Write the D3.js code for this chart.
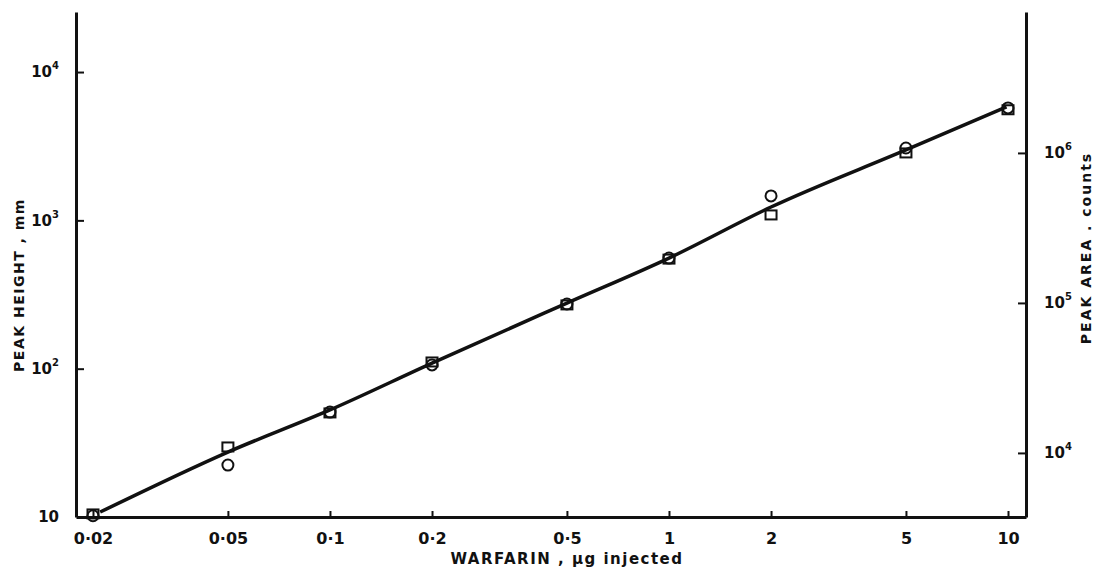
<!DOCTYPE html>
<html>
<head>
<meta charset="utf-8">
<script src="https://cdn.jsdelivr.net/npm/d3@7"></script>
<style>
  body { margin: 0; background: #fff; }
  svg text { font-family: "DejaVu Sans", sans-serif; font-weight: bold; fill: #111; }
  .axis path, .axis line { stroke: #111; }
</style>
</head>
<body>
<svg width="1094" height="573"></svg>
<script>
// warfarin injected, ug
var doses = [0.02, 0.05, 0.1, 0.2, 0.5, 1, 2, 5, 10];
var doseLabels = ["0·02", "0·05", "0·1", "0·2", "0·5", "1", "2", "5", "10"];

// circles: peak height (mm, left axis)
var peakHeight = [10.2, 22.4, 51, 106, 273, 557, 1462, 3076, 5730];
// squares: peak area (counts, right axis)
var peakArea = [3920, 10960, 18480, 40400, 97000, 196000, 386000, 1000000, 1940000];

// drawn calibration line, in peak height units
var lineDose = [0.021, 0.05, 0.1, 0.2, 0.5, 1, 2, 5, 9.9];
var lineHeight = [10.8, 27.4, 52.7, 109, 277, 557, 1230, 2985, 5820];

var heightTicks = [10, 100, 1000, 10000];
var areaTicks = [10000, 100000, 1000000];

var svg = d3.select("svg");

var x = d3.scaleLog().domain([0.01782, 11.3]).range([76, 1026]);
var yH = d3.scaleLog().domain([10, 25400]).range([517, 12]);
var yA = d3.scaleLog().domain([3740, 8.7e6]).range([517, 12]);

function sup(sel, d) {
  var e = Math.round(Math.log10(d));
  sel.text(null);
  sel.append("tspan").text("10");
  if (e > 1) {
    sel.append("tspan").attr("dy", -8).style("font-size", "10px").text(e);
  }
}

// bottom axis
var gx = svg.append("g")
  .attr("class", "axis")
  .attr("transform", "translate(0,517)")
  .call(d3.axisBottom(x)
    .tickValues(doses)
    .tickFormat(function(d, i) { return doseLabels[i]; })
    .tickSizeInner(-6)
    .tickSizeOuter(0)
    .tickPadding(16));
gx.select(".domain").attr("stroke-width", 3);
gx.selectAll(".tick line").attr("stroke-width", 2);
gx.selectAll(".tick text").style("font-size", "16px");

// left axis
var gl = svg.append("g")
  .attr("class", "axis")
  .attr("transform", "translate(76,0)")
  .call(d3.axisLeft(yH)
    .tickValues(heightTicks)
    .tickSizeInner(-8)
    .tickSizeOuter(0)
    .tickPadding(17));
gl.select(".domain").attr("stroke-width", 3);
gl.selectAll(".tick line").attr("stroke-width", 2);
gl.selectAll(".tick text")
  .style("font-size", "15px")
  .each(function(d) { sup(d3.select(this), d); });
gl.selectAll(".tick").filter(function(d) { return d == 10; }).select("line").remove();

// right axis
var gr = svg.append("g")
  .attr("class", "axis")
  .attr("transform", "translate(1026,0)")
  .call(d3.axisRight(yA)
    .tickValues(areaTicks)
    .tickSizeInner(-8)
    .tickSizeOuter(0)
    .tickPadding(18));
gr.select(".domain").attr("stroke-width", 3);
gr.selectAll(".tick line").attr("stroke-width", 2);
gr.selectAll(".tick text")
  .style("font-size", "15px")
  .each(function(d) { sup(d3.select(this), d); });

// axis titles
svg.append("text")
  .attr("x", 567).attr("y", 564)
  .attr("text-anchor", "middle")
  .style("font-size", "15px")
  .attr("letter-spacing", 1.5)
  .text("WARFARIN , µg  injected");

svg.append("text")
  .attr("transform", "translate(24,285) rotate(-90)")
  .attr("text-anchor", "middle")
  .style("font-size", "14px")
  .attr("letter-spacing", 1.5)
  .text("PEAK HEIGHT , mm");

svg.append("text")
  .attr("transform", "translate(1091,248) rotate(-90)")
  .attr("text-anchor", "middle")
  .style("font-size", "14px")
  .attr("letter-spacing", 2)
  .text("PEAK AREA . counts");

// calibration line
var lineData = lineDose.map(function(d, i) { return [d, lineHeight[i]]; });
svg.append("path")
  .datum(lineData)
  .attr("fill", "none")
  .attr("stroke", "#111")
  .attr("stroke-width", 3.5)
  .attr("d", d3.line()
    .x(function(d) { return x(d[0]); })
    .y(function(d) { return yH(d[1]); })
    .curve(d3.curveMonotoneX));

// squares (peak area)
svg.append("g").selectAll("rect")
  .data(doses)
  .enter().append("rect")
  .attr("x", function(d) { return x(d) - 5.5; })
  .attr("y", function(d, i) { return yA(peakArea[i]) - 4.5; })
  .attr("width", 11)
  .attr("height", 9)
  .attr("fill", "none")
  .attr("stroke", "#111")
  .attr("stroke-width", 2);

// circles (peak height)
svg.append("g").selectAll("circle")
  .data(doses)
  .enter().append("circle")
  .attr("cx", function(d) { return x(d); })
  .attr("cy", function(d, i) { return yH(peakHeight[i]); })
  .attr("r", 5.5)
  .attr("fill", "none")
  .attr("stroke", "#111")
  .attr("stroke-width", 2);
</script>
</body>
</html>
